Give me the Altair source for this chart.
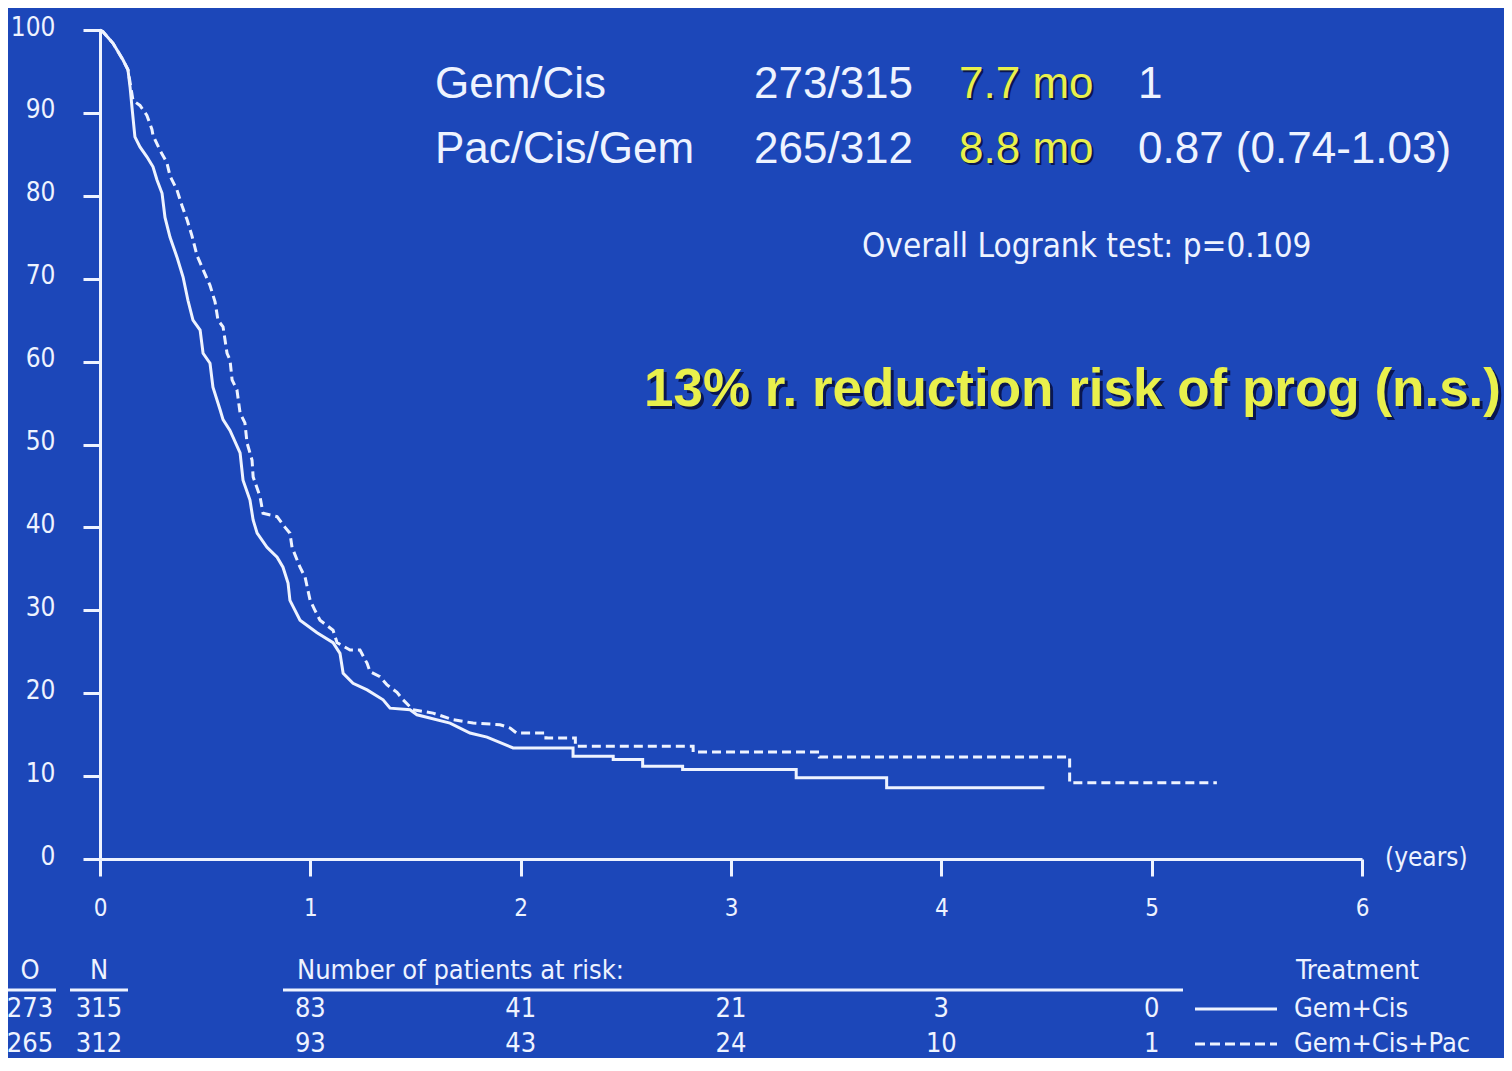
import altair as alt
import pandas as pd

# ---------------- data ----------------
gem_t = [0, 0.014, 0.062, 0.109, 0.133, 0.143, 0.152, 0.166, 0.19, 0.223, 0.252, 0.271,
         0.295, 0.309, 0.333, 0.366, 0.395, 0.418, 0.442, 0.476, 0.49, 0.523, 0.537, 0.571,
         0.585, 0.618, 0.666, 0.68, 0.713, 0.728, 0.747, 0.794, 0.842, 0.87, 0.894, 0.903,
         0.951, 1.032, 1.108, 1.141, 1.156, 1.203, 1.27, 1.346, 1.379, 1.474, 1.507, 1.664,
         1.759, 1.84, 1.964, 2.249, 2.249, 2.44, 2.44, 2.58, 2.58, 2.77, 2.77, 3.31, 3.31,
         3.74, 3.74, 4.49]
gem_s = [100, 99.8, 98.4, 96.4, 95.2, 93.1, 90.7, 87.1, 85.9, 84.7, 83.5, 81.9,
         80.3, 77.4, 75.0, 72.6, 70.2, 67.4, 65.0, 63.8, 61.0, 59.8, 56.9, 54.2,
         53.0, 51.7, 49.0, 45.7, 43.3, 40.9, 39.3, 37.6, 36.4, 35.2, 33.3, 31.2,
         28.8, 27.3, 26.1, 24.8, 22.4, 21.2, 20.4, 19.2, 18.2, 18.0, 17.4, 16.4,
         15.2, 14.7, 13.4, 13.4, 12.4, 12.4, 12.0, 12.0, 11.2, 11.2, 10.8, 10.8, 9.8,
         9.8, 8.6, 8.6]

pac_t = [0, 0.014, 0.062, 0.109, 0.133, 0.157, 0.19, 0.223, 0.247, 0.252, 0.285, 0.318,
         0.333, 0.366, 0.39, 0.414, 0.437, 0.461, 0.49, 0.523, 0.547, 0.561, 0.585, 0.604,
         0.618, 0.628, 0.651, 0.666, 0.689, 0.699, 0.723, 0.728, 0.761, 0.775, 0.842, 0.88,
         0.903, 0.913, 0.951, 0.975, 0.999, 1.022, 1.046, 1.108, 1.127, 1.189, 1.236, 1.27,
         1.284, 1.331, 1.365, 1.412, 1.441, 1.488, 1.583, 1.679, 1.774, 1.902, 1.95, 1.98,
         2.12, 2.12, 2.26, 2.26, 2.82, 2.82, 3.42, 3.42, 4.61, 4.61, 5.31]
pac_s = [100, 99.8, 98.4, 96.4, 95.2, 91.5, 90.9, 89.7, 88.0, 87.3, 85.5, 84.0,
         82.4, 80.7, 78.8, 77.1, 75.2, 72.8, 71.1, 69.2, 67.2, 65.0, 64.2, 61.0,
         60.2, 57.8, 56.6, 53.8, 52.6, 50.2, 48.1, 46.1, 43.7, 41.7, 41.3, 40.0,
         39.3, 37.6, 35.2, 34.0, 31.2, 30.0, 28.8, 27.6, 26.1, 25.2, 25.2, 23.6,
         22.6, 22.0, 21.0, 20.1, 19.2, 18.0, 17.6, 16.8, 16.4, 16.2, 15.8, 15.2,
         15.2, 14.6, 14.6, 13.6, 13.6, 12.9, 12.9, 12.3, 12.3, 9.2, 9.2]

x_ticks = [0, 1, 2, 3, 4, 5, 6]
y_ticks = [0, 10, 20, 30, 40, 50, 60, 70, 80, 90, 100]

risk_years = [1, 2, 3, 4, 5]
risk_gem = [83, 41, 21, 3, 0]
risk_pac = [93, 43, 24, 10, 1]

groups = ["Gem+Cis", "Gem+Cis+Pac"]
events_o = [273, 265]
totals_n = [315, 312]

summary_names = ["Gem/Cis", "Pac/Cis/Gem"]
summary_counts = ["273/315", "265/312"]
summary_median = ["7.7 mo", "8.8 mo"]
summary_hr = ["1", "0.87 (0.74-1.03)"]
logrank_text = "Overall  Logrank test: p=0.109"
headline_text = "13% r. reduction risk of prog (n.s.)"
risk_title = "Number of patients at risk:"
legend_title = "Treatment"
x_unit = "(years)"

# ---------------- style ----------------
BG = "#1c47b9"
FG = "#eef3ff"
YEL = "#e9f04c"
SHADOW = "#0a1650"
FONT = "Liberation Sans"
NARROW = "Liberation Sans Narrow, DejaVu Sans Condensed, Liberation Sans"
W, H = 1262, 829

x_scale = alt.Scale(domain=[0, 6], nice=False, zero=False)
y_scale = alt.Scale(domain=[0, 100], nice=False)

x_axis = alt.Axis(values=x_ticks, title=None, grid=False, domainColor=FG, domainWidth=3,
                  tickColor=FG, tickWidth=3, tickSize=17, labelColor=FG, labelFontSize=24,
                  labelFont=NARROW, labelPadding=20, labelFlush=False, format="d")
y_axis = alt.Axis(values=y_ticks, title=None, grid=False, domainColor=FG, domainWidth=3,
                  tickColor=FG, tickWidth=3, tickSize=17, labelColor=FG, labelFontSize=26,
                  labelFont=NARROW, labelPadding=28, labelOffset=-3, format="d")

gem_df = pd.DataFrame({"t": gem_t, "s": gem_s, "i": range(len(gem_t))})
pac_df = pd.DataFrame({"t": pac_t, "s": pac_s, "i": range(len(pac_t))})

gem_line = alt.Chart(gem_df).mark_line(color=FG, strokeWidth=3).encode(
    x=alt.X("t:Q", scale=x_scale, axis=x_axis, title=None),
    y=alt.Y("s:Q", scale=y_scale, axis=y_axis, title=None),
    order="i:Q",
)
pac_line = alt.Chart(pac_df).mark_line(color=FG, strokeWidth=3, strokeDash=[9, 5]).encode(
    x=alt.X("t:Q", scale=x_scale, axis=x_axis, title=None),
    y=alt.Y("s:Q", scale=y_scale, axis=y_axis, title=None),
    order="i:Q",
)


def txt(label, x, y, size, color=FG, align="left", baseline="middle", weight="normal", font=FONT):
    return alt.Chart(pd.DataFrame({"label": [label]})).mark_text(
        align=align, baseline=baseline, fontSize=size, color=color, fontWeight=weight, font=font
    ).encode(x=alt.value(x), y=alt.value(y), text="label:N")


def rule(x1, x2, y, dash=None, width=3):
    kw = dict(color=FG, strokeWidth=width)
    if dash:
        kw["strokeDash"] = dash
    return alt.Chart(pd.DataFrame({"a": [0]})).mark_rule(**kw).encode(
        x=alt.value(x1), x2=alt.value(x2), y=alt.value(y))


layers = [gem_line, pac_line]

# summary table at top (plot coords = page - (100, 30))
row_y = [68, 133]
for r in range(2):
    layers.append(txt(summary_names[r], 335, row_y[r], 44, baseline="alphabetic"))
    layers.append(txt(summary_counts[r], 654, row_y[r], 44, baseline="alphabetic"))
    layers.append(txt(summary_median[r], 861, row_y[r] + 2, 44, color=SHADOW, baseline="alphabetic"))
    layers.append(txt(summary_median[r], 859, row_y[r], 44, color=YEL, baseline="alphabetic"))
    layers.append(txt(summary_hr[r], 1038, row_y[r], 44, baseline="alphabetic"))

layers.append(txt(logrank_text, 762, 217, 33, font=NARROW))
layers.append(txt(headline_text, 1404, 363, 53, color=SHADOW, align="right", weight="bold"))
layers.append(txt(headline_text, 1401, 360, 53, color=YEL, align="right", weight="bold"))
layers.append(txt(x_unit, 1285, 828, 26, font=NARROW))

# risk table
ROW_H, ROW_1, ROW_2, ULINE = 941, 979, 1014, 960
O_X, N_X = -70, -1
risk_df = pd.DataFrame({"year": risk_years, "gem": risk_gem, "pac": risk_pac})
for field, yv in (("gem", ROW_1), ("pac", ROW_2)):
    layers.append(
        alt.Chart(risk_df).mark_text(align="center", baseline="middle", fontSize=27,
                                      color=FG, font=NARROW).encode(
            x=alt.X("year:Q", scale=x_scale, axis=x_axis, title=None),
            y=alt.value(yv), text=f"{field}:Q")
    )

layers.append(txt("O", O_X, ROW_H, 27, align="center", font=NARROW))
layers.append(txt("N", N_X, ROW_H, 27, align="center", font=NARROW))
layers.append(rule(-100, -44, ULINE))
layers.append(rule(-30, 28, ULINE))
layers.append(txt(risk_title, 197, ROW_H, 27, font=NARROW))
layers.append(rule(183, 1083, ULINE))
layers.append(txt(legend_title, 1196, ROW_H, 27, font=NARROW))
for r, yv in enumerate([ROW_1, ROW_2]):
    layers.append(txt(str(events_o[r]), O_X, yv, 27, align="center", font=NARROW))
    layers.append(txt(str(totals_n[r]), N_X, yv, 27, align="center", font=NARROW))
    layers.append(rule(1095, 1177, yv, dash=None if r == 0 else [10, 5]))
    layers.append(txt(groups[r], 1194, yv, 27, font=NARROW))

chart = alt.layer(*layers).properties(
    width=W, height=H,
    autosize=alt.AutoSizeParams(type="none"),
    padding={"left": 92, "top": 22, "right": 142, "bottom": 199},
).configure(background=BG).configure_view(stroke=None)

chart.save("out.html", embed_options={"renderer": "svg", "actions": False})
